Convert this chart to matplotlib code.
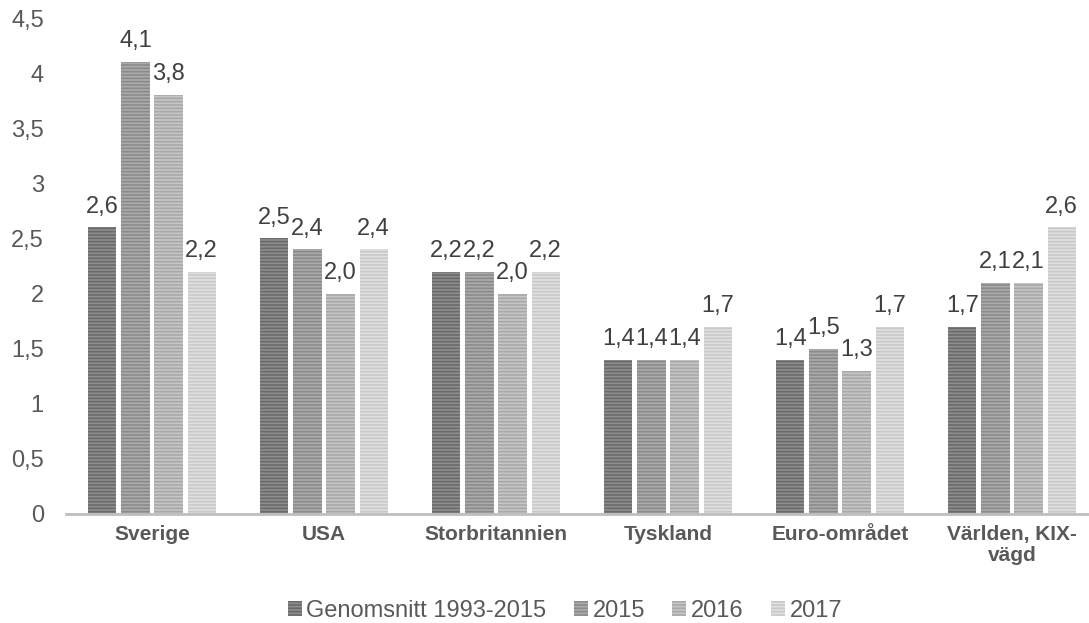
import numpy as np
import matplotlib.pyplot as plt

plt.rcParams['font.family'] = ['Liberation Sans', 'DejaVu Sans']
plt.rcParams['hatch.linewidth'] = 1.2

categories = ["Sverige", "USA", "Storbritannien", "Tyskland", "Euro-området", "Världen, KIX-\nvägd"]
series_names = ["Genomsnitt 1993-2015", "2015", "2016", "2017"]
avg_1993_2015 = [2.6, 2.5, 2.2, 1.4, 1.4, 1.7]
y2015 = [4.1, 2.4, 2.2, 1.4, 1.5, 2.1]
y2016 = [3.8, 2.0, 2.0, 1.4, 1.3, 2.1]
y2017 = [2.2, 2.4, 2.2, 1.7, 1.7, 2.6]
yticks = [0, 0.5, 1, 1.5, 2, 2.5, 3, 3.5, 4, 4.5]

series = [avg_1993_2015, y2015, y2016, y2017]
faces = ["#8e8e8e", "#ababab", "#c6c6c6", "#e0e0e0"]
stripes = ["#6a6a6a", "#8a8a8a", "#a8a8a8", "#c8c8c8"]

fig = plt.figure(figsize=(10.89, 6.23), dpi=100)
ax = fig.add_axes([66 / 1089, 109 / 623, 1032 / 1089, 496 / 623])

x = np.arange(len(categories))
step = 0.192
width = 0.163
for i, vals in enumerate(series):
    pos = x + (i - 1.5) * step
    ax.bar(pos, vals, width, color=faces[i], edgecolor=stripes[i], linewidth=0,
           hatch='-----', label=series_names[i])
    for p, v in zip(pos, vals):
        ax.annotate(f"{v:.1f}".replace(".", ","), (p, v), xytext=(0, 7),
                    textcoords='offset points', ha='center', va='bottom',
                    fontsize=17, color='#404040')

ax.set_xlim(-0.5, len(categories) - 0.5)
ax.set_ylim(0, 4.5)
ax.set_yticks(yticks)
ax.set_yticklabels([f"{t:g}".replace(".", ",") for t in yticks], fontsize=17, color='#595959')
ax.set_xticks(x)
ax.set_xticklabels(categories, fontsize=15, fontweight='bold', color='#595959',
                   linespacing=1.15)
ax.tick_params(length=0)
ax.tick_params(axis='x', pad=8)
ax.tick_params(axis='y', pad=16)
for s in ['top', 'right', 'left']:
    ax.spines[s].set_visible(False)
ax.spines['bottom'].set_color('#bfbfbf')
ax.spines['bottom'].set_linewidth(2)

fig.legend(loc='center', bbox_to_anchor=(565 / 1089, 1 - 611 / 623), ncol=4, frameon=False,
           fontsize=17, handlelength=0.6, handleheight=0.6, handletextpad=0.2,
           columnspacing=1.15, labelcolor='#595959', borderpad=0)

fig.savefig("out.png", dpi=100)
